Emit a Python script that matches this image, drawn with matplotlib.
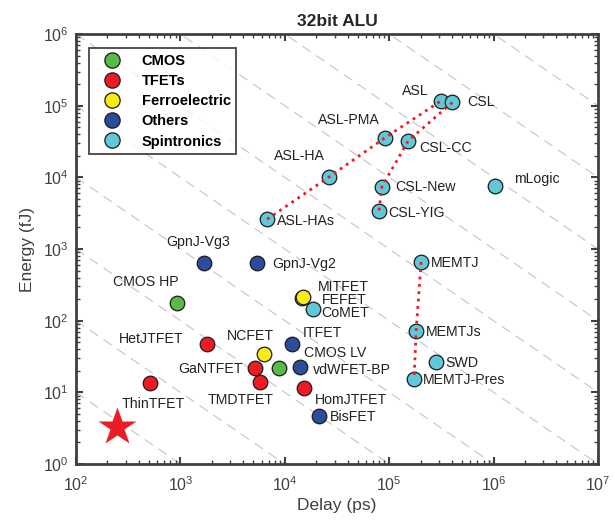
import matplotlib
matplotlib.use('Agg')
import matplotlib.pyplot as plt
import numpy as np

plt.rcParams['font.family'] = ['Liberation Sans', 'DejaVu Sans']

# device name, delay (ps), energy (fJ), group
names = ['ASL', 'CSL', 'ASL-PMA', 'CSL-CC', 'ASL-HA', 'CSL-New', 'CSL-YIG', 'mLogic',
         'ASL-HAs', 'MEMTJ', 'MEMTJs', 'MEMTJ-Pres', 'SWD',
         'GpnJ-Vg3', 'GpnJ-Vg2', 'CMOS HP', 'FEFET', 'MITFET', 'CoMET',
         'HetJTFET', 'NCFET', 'ITFET', 'CMOS LV', 'vdWFET-BP', 'GaNTFET',
         'TMDTFET', 'HomJTFET', 'BisFET', 'ThinTFET']
delay = [3.11e5, 4.02e5, 9.1e4, 1.52e5, 2.67e4, 8.5e4, 7.98e4, 1.03e6,
         6.77e3, 2.02e5, 1.81e5, 1.73e5, 2.8e5,
         1.68e3, 5.46e3, 920, 1.45e4, 1.49e4, 1.86e4,
         1.8e3, 6.3e3, 1.17e4, 8.8e3, 1.4e4, 5.2e3,
         5.8e3, 1.53e4, 2.13e4, 512]
energy = [1.16e5, 1.11e5, 3.57e4, 3.24e4, 1.02e4, 7.4e3, 3.38e3, 7.6e3,
          2.6e3, 660, 72, 15.3, 26.5,
          645, 645, 178, 205, 214, 146,
          47, 34, 47, 21.9, 22.6, 21.9,
          13.9, 11.5, 4.68, 13.5]
group = ['Spintronics'] * 13 + ['Others', 'Others', 'CMOS', 'Ferroelectric', 'Ferroelectric',
         'Spintronics', 'TFETs', 'Ferroelectric', 'Others', 'CMOS', 'Others', 'TFETs',
         'TFETs', 'TFETs', 'Others', 'TFETs']

# label offsets (points) and alignment
offs = {'ASL': (-9, 7, 'right'), 'CSL': (11, 0, 'left'), 'ASL-PMA': (-26, 13, 'center'),
        'CSL-CC': (8, -5, 'left'), 'ASL-HA': (-3, 15, 'right'), 'CSL-New': (10, 0, 'left'),
        'CSL-YIG': (7, -1, 'left'), 'mLogic': (14, 5, 'left'), 'ASL-HAs': (7, -1, 'left'),
        'MEMTJ': (7, -1, 'left'), 'MEMTJs': (7, -1, 'left'), 'MEMTJ-Pres': (6, -1, 'left'),
        'SWD': (7, -1, 'left'), 'GpnJ-Vg3': (-4, 15, 'center'), 'GpnJ-Vg2': (11, -1, 'left'),
        'CMOS HP': (-22, 15, 'center'), 'FEFET': (14.5, -1.5, 'left'), 'MITFET': (11, 7, 'left'),
        'CoMET': (6, -3, 'left'), 'HetJTFET': (-17, 4, 'right'), 'NCFET': (-10, 13, 'center'),
        'ITFET': (8, 8, 'left'), 'CMOS LV': (18, 11, 'left'), 'vdWFET-BP': (9, -2, 'left'),
        'GaNTFET': (-9, -1, 'right'), 'TMDTFET': (-14, -13, 'center'),
        'HomJTFET': (8, -9, 'left'), 'BisFET': (8, -1, 'left'), 'ThinTFET': (2, -15, 'center')}

colors = {'CMOS': '#5bb947', 'TFETs': '#ed1c24', 'Ferroelectric': '#f7ec13',
          'Others': '#2e4c9e', 'Spintronics': '#5fc9d9'}
legend_order = ['CMOS', 'TFETs', 'Ferroelectric', 'Others', 'Spintronics']

chains = [['ASL-HAs', 'ASL-HA', 'ASL-PMA', 'ASL'],
          ['CSL', 'CSL-CC', 'CSL-New', 'CSL-YIG'],
          ['MEMTJ', 'MEMTJs', 'MEMTJ-Pres']]

target = (247, 3.28)

fig = plt.figure(figsize=(6.15, 5.24), dpi=100)
ax = fig.add_axes([0.1236, 0.1145, 0.8488, 0.8205])
ax.set_xscale('log')
ax.set_yscale('log')
ax.set_xlim(1e2, 1e7)
ax.set_ylim(1e0, 1e6)

# constant energy-delay product lines
xs = np.array([1e2, 1e7])
for k in range(2, 14):
    ax.plot(xs, 10.0**k / xs, color='#c4c4c4', lw=0.8, ls=(0, (9, 6)), zorder=1)

idx = {n: i for i, n in enumerate(names)}
for ch in chains:
    ax.plot([delay[idx[n]] for n in ch], [energy[idx[n]] for n in ch],
            color='#ed1c24', ls=':', lw=2, zorder=3)

for i, n in enumerate(names):
    ax.plot(delay[i], energy[i], 'o', ms=10.5, mfc=colors[group[i]], mec='#1a1a1a',
            mew=0.9, zorder=2)
    dx, dy, ha = offs[n]
    ax.annotate(n, (delay[i], energy[i]), xytext=(dx, dy), textcoords='offset points',
                ha=ha, va='center', fontsize=10.2, color='#222222', zorder=5)

ax.plot(*target, marker='*', ms=29, color='#ed1c24', mec='none', zorder=4)

handles = [plt.Line2D([], [], ls='none', marker='o', ms=11, mfc=colors[g], mec='#1a1a1a',
                      mew=0.9) for g in legend_order]
leg = ax.legend(handles, legend_order, loc='upper left', bbox_to_anchor=(0.025, 0.967),
                borderaxespad=0, frameon=True, fancybox=False, edgecolor='#262626',
                prop={'weight': 'bold', 'size': 10.5}, handletextpad=0.9,
                labelspacing=0.42, borderpad=0.4, handlelength=2.3)
leg.get_frame().set_linewidth(1.4)
leg.set_zorder(6)

for sp in ax.spines.values():
    sp.set_linewidth(2)
    sp.set_color('#404040')
ax.tick_params(which='both', direction='in', top=True, right=True, color='#404040',
               labelsize=11.5, labelcolor='#404040')
ax.tick_params(axis='x', which='major', pad=8)
ax.tick_params(axis='y', which='major', pad=5)
ax.tick_params(which='major', length=5, width=1.5)
ax.tick_params(which='minor', length=3, width=1)
ax.set_xlabel('Delay (ps)', fontsize=12.5, color='#404040', labelpad=3)
ax.set_ylabel('Energy (fJ)', fontsize=12.5, color='#404040', labelpad=6)
ax.set_title('32bit ALU', fontsize=12.5, fontweight='bold', color='#262626', pad=6)

fig.savefig('out.png', dpi=100)
